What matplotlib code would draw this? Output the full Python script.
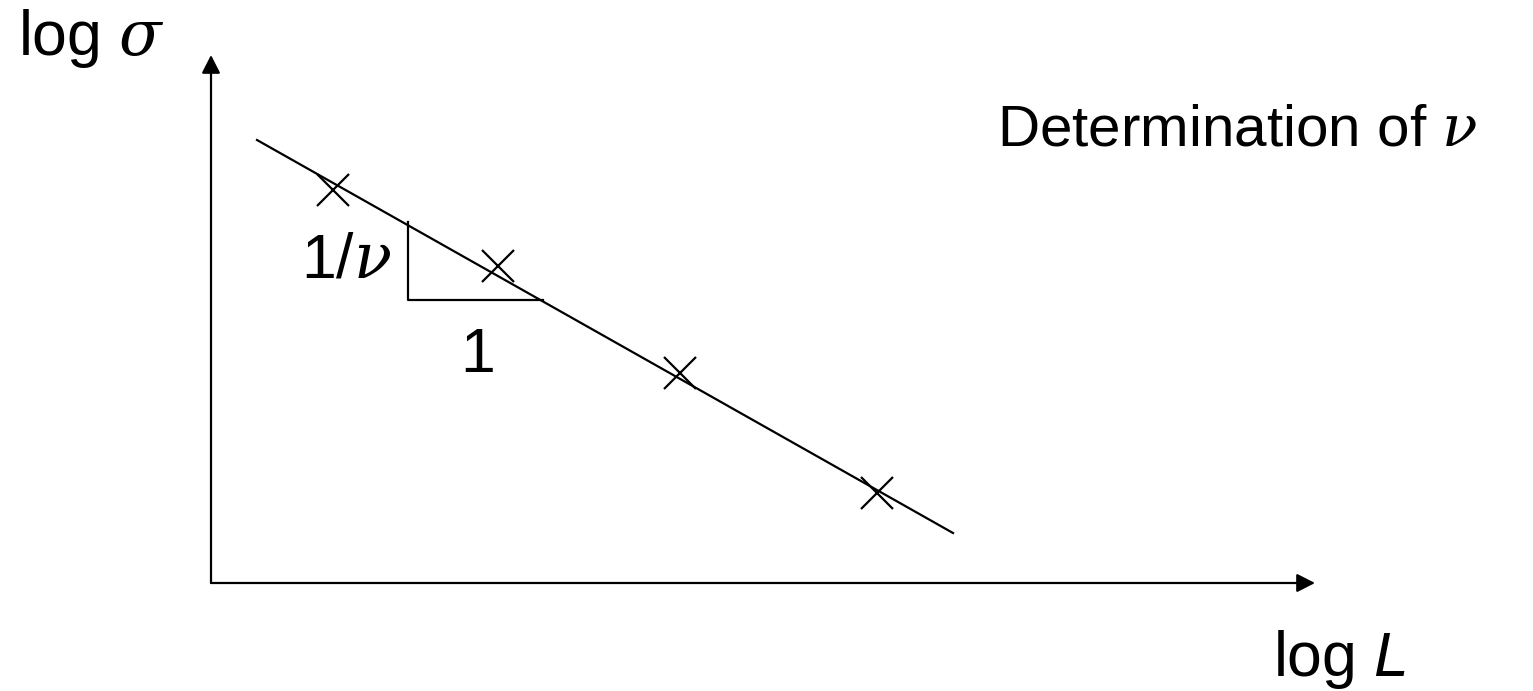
import numpy as np
import matplotlib
matplotlib.use("Agg")
import matplotlib.pyplot as plt

# fonts: sans for words, serif italic for greek symbols (mathtext)
plt.rcParams['font.family'] = ['Liberation Sans', 'DejaVu Sans']
plt.rcParams['mathtext.fontset'] = 'custom'
plt.rcParams['mathtext.it'] = 'DejaVu Serif:italic'
plt.rcParams['mathtext.rm'] = 'Liberation Sans'
plt.rcParams['mathtext.sf'] = 'Liberation Sans:italic'

# data (log L, log sigma), arbitrary units
logL = [1.22, 2.87, 4.69, 6.66]
logSigma = [3.93, 3.17, 2.10, 0.90]

# fitted line end points
fit_x = [0.46, 7.42]
fit_y = [4.43, 0.50]

# slope triangle
tri_x = [1.97, 1.97, 3.32]
tri_y = [3.61, 2.83, 2.83]

fig = plt.figure(figsize=(15.33, 6.91), dpi=100)
ax = fig.add_axes([0, 0, 1, 1])
ax.set_xlim(-2.11, 13.22)
ax.set_ylim(-1.08, 5.83)
ax.axis('off')

# axes with arrows
arrow = dict(arrowstyle='-|>,head_length=0.55,head_width=0.28', mutation_scale=20,
             lw=1.6, color='black', shrinkA=0, shrinkB=0)
ax.annotate('', xy=(11.04, 0), xytext=(0, 0), arrowprops=arrow)
ax.annotate('', xy=(0, 5.28), xytext=(0, 0), arrowprops=arrow)

ax.plot(fit_x, fit_y, color='black', lw=1.6)
ax.plot(logL, logSigma, linestyle='none', marker='x', markersize=23,
        markeredgewidth=1.6, color='black')
ax.plot(tri_x, tri_y, color='black', lw=1.6)

fs = 45
ax.text(-1.93, 5.28, r'log $\sigma$', fontsize=fs, ha='left', va='baseline')
ax.text(10.62, -0.93, r'log $\mathsf{L}$', fontsize=fs, ha='left', va='baseline')
ax.text(7.86, 4.38, r'Determination of $\nu$', fontsize=42, ha='left', va='baseline')
ax.text(0.90, 3.05, r'1/$\nu$', fontsize=fs, ha='left', va='baseline')
ax.text(2.49, 2.11, '1', fontsize=fs, ha='left', va='baseline')

fig.savefig('out.png', dpi=100)
